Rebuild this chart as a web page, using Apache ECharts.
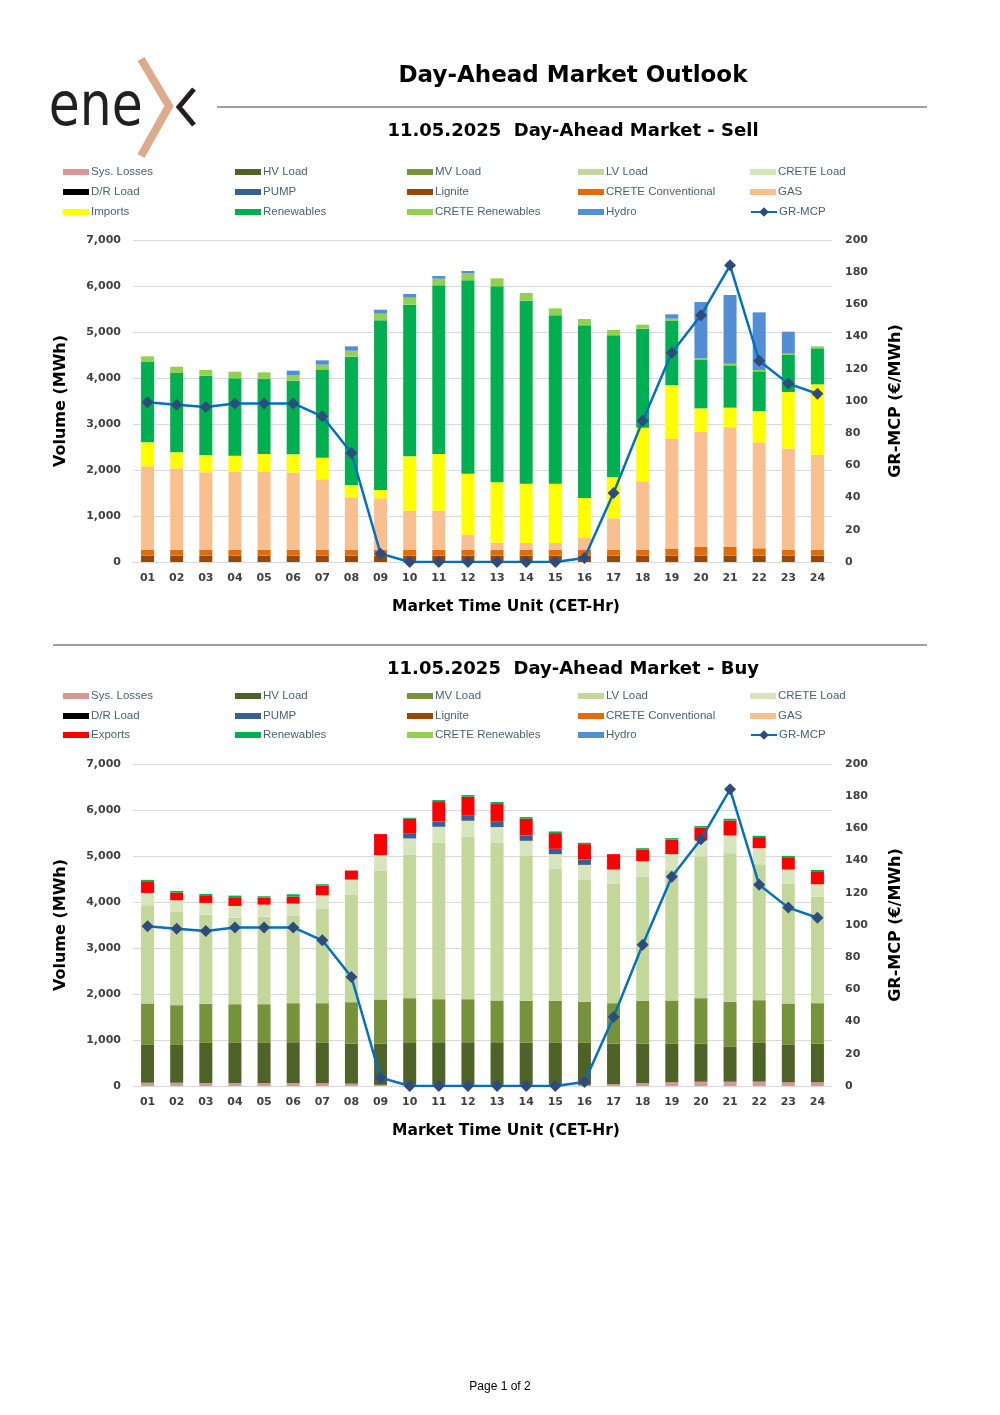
<!DOCTYPE html>
<html>
<head>
<meta charset="utf-8">
<script src="https://cdn.jsdelivr.net/npm/echarts@6/dist/echarts.min.js"></script>
<style>
html,body{margin:0;padding:0;background:#fff;}
#c{width:1000px;height:1415px;}
</style>
</head>
<body>
<div id="c"></div>
<script>
const hours = ['01','02','03','04','05','06','07','08','09','10','11','12','13','14','15','16','17','18','19','20','21','22','23','24'];
const volTicks = [0,1000,2000,3000,4000,5000,6000,7000];
const mcpTicks = [0,20,40,60,80,100,120,140,160,180,200];

// Sell side (MWh)
const sellLignite   = [138,138,138,138,138,138,138,138,138,138,138,138,138,138,138,138,138,138,138,138,138,138,138,138];
const sellCreteConv = [130,130,130,130,130,130,130,130,130,130,130,130,130,130,130,130,130,130,152,195,195,159,130,130];
const sellGas       = [1812,1768,1681,1688,1688,1674,1529,1138,1116,848,848,326,152,145,145,254,681,1486,2391,2500,2594,2304,2196,2065];
const sellImports   = [521,348,377,355,392,398,471,268,181,1181,1232,1326,1312,1290,1290,869,891,1166,1159,507,428,681,1231,1529];
const sellRenew     = [1747,1724,1724,1682,1637,1602,1906,2790,3688,3297,3666,4203,4261,3978,3659,3754,3087,2152,1399,1051,920,863,805,783];
const sellCreteRen  = [123,138,124,144,138,116,116,130,145,152,145,152,173,167,152,137,116,87,51,36,36,29,29,43];
const sellHydro     = [0,0,0,0,0,101,94,94,87,80,58,51,0,0,0,0,0,0,94,1225,1493,1253,478,0];

// Buy side (MWh)
const buySysLoss = [70,70,65,65,65,65,60,50,25,25,25,25,25,25,25,25,40,65,80,94,94,94,80,80];
const buyHV      = [823,823,872,872,872,886,877,872,897,926,926,926,926,919,912,912,882,857,835,828,756,843,813,842];
const buyMV      = [901,864,849,842,842,850,864,901,959,959,937,937,908,908,915,893,879,930,944,988,980,929,901,879];
const buyLV      = [2135,2034,1939,1881,1903,1895,2048,2331,2796,3115,3399,3529,3435,3152,2868,2658,2593,2701,2840,3079,3232,2956,2600,2317];
const buyCrete   = [268,247,255,254,261,269,298,334,341,356,348,349,334,326,320,319,312,334,341,349,385,348,312,268];
const buyPump    = [0,0,0,0,0,0,0,0,0,116,117,109,116,117,116,117,0,0,0,0,0,0,0,0];
const buyExports = [255,167,167,189,153,153,210,196,458,313,421,414,385,363,341,334,334,254,319,283,326,240,268,283];
const buyRenew   = [29,36,29,36,29,50,29,0,0,21,43,36,44,36,37,29,0,29,29,29,37,29,29,29];

// Market clearing price (EUR/MWh)
const mcp = [99.2,97.7,96.3,98.5,98.5,98.5,90.5,67.7,5.2,0,0,0,0,0,0,2.5,42.9,87.8,130,153.2,184.3,125,110.8,104.5];

const zeros = hours.map(() => 0);

const colors = {
  'Sys. Losses':'#DA9694','HV Load':'#4F6228','MV Load':'#76933C','LV Load':'#C4D79B','CRETE Load':'#D8E4BC',
  'D/R Load':'#000000','PUMP':'#366092','Lignite':'#974706','CRETE Conventional':'#E26B0A','GAS':'#FABF8F',
  'Imports':'#FFFF00','Exports':'#FF0000','Renewables':'#00B050','CRETE Renewables':'#92D050','Hydro':'#538DD5'
};

const sellSeries = [
  ['Sys. Losses', zeros],['HV Load', zeros],['MV Load', zeros],['LV Load', zeros],['CRETE Load', zeros],
  ['D/R Load', zeros],['PUMP', zeros],['Lignite', sellLignite],['CRETE Conventional', sellCreteConv],['GAS', sellGas],
  ['Imports', sellImports],['Renewables', sellRenew],['CRETE Renewables', sellCreteRen],['Hydro', sellHydro]
];
const buySeries = [
  ['Sys. Losses', buySysLoss],['HV Load', buyHV],['MV Load', buyMV],['LV Load', buyLV],['CRETE Load', buyCrete],
  ['D/R Load', zeros],['PUMP', buyPump],['Lignite', zeros],['CRETE Conventional', zeros],['GAS', zeros],
  ['Exports', buyExports],['Renewables', buyRenew],['CRETE Renewables', zeros],['Hydro', zeros]
];

const FONT = 'DejaVu Sans';
const gridTops = [240, 764];
const GRID_H = 322;

function buildSeries(list, idx, stack){
  const out = list.map(([name, data]) => ({
    type:'bar', name, stack, data, xAxisIndex:idx, yAxisIndex:idx*2,
    barWidth:13, itemStyle:{color:colors[name]}, emphasis:{disabled:true}, z:2
  }));
  out.push({
    type:'line', name:'GR-MCP', data:mcp, xAxisIndex:idx, yAxisIndex:idx*2+1,
    symbol:'diamond', symbolSize:12, showAllSymbol:true,
    lineStyle:{color:'#0070C0', width:2.5}, itemStyle:{color:'#2F4B7C'},
    emphasis:{disabled:true}, z:5
  });
  return out;
}

const legendCols = [63, 235, 407, 578, 750];
function buildLegends(list, rowTops){
  const names = list.map(s => s[0]).concat(['GR-MCP']);
  return names.map((n, i) => {
    const r = Math.floor(i/5), c = i%5;
    const isLine = n === 'GR-MCP';
    return {
      left: legendCols[c], top: rowTops[r], padding:0, itemGap:0,
      data:[isLine ? {name:n} : {name:n, icon:'rect'}],
      itemWidth: 26, itemHeight: isLine ? 12 : 6,
      selectedMode:false,
      textStyle:{fontFamily:'Liberation Sans', fontSize:11.5, color:'#4A6274', padding:[0,0,0,-3]}
    };
  });
}

function yAxes(idx){
  return [
    {type:'value', gridIndex:idx, min:0, max:7000, interval:1000, position:'left',
     name:'Volume (MWh)', nameLocation:'middle', nameGap:64, nameRotate:90,
     nameTextStyle:{fontFamily:FONT, fontWeight:'bold', fontSize:16, color:'#000'},
     axisLabel:{margin:12, fontFamily:FONT, fontSize:11, fontWeight:'bold', color:'#404040',
       formatter: v => volTicks.includes(v) ? v.toLocaleString('en-US') : ''},
     axisLine:{show:false}, axisTick:{show:false},
     splitLine:{lineStyle:{color:'#D9D9D9', width:1}}},
    {type:'value', gridIndex:idx, min:0, max:200, interval:20, position:'right',
     name:'GR-MCP (€/MWh)', nameLocation:'middle', nameGap:56, nameRotate:90,
     nameTextStyle:{fontFamily:FONT, fontWeight:'bold', fontSize:16, color:'#000'},
     axisLabel:{margin:13, fontFamily:FONT, fontSize:11, fontWeight:'bold', color:'#404040',
       formatter: v => mcpTicks.includes(v) ? String(v) : ''},
     axisLine:{show:false}, axisTick:{show:false}, splitLine:{show:false}}
  ];
}

function xAxis(idx){
  return {type:'category', gridIndex:idx, data:hours,
    axisLabel:{margin:11, fontFamily:FONT, fontSize:11, fontWeight:'bold', color:'#404040', interval:0},
    axisLine:{show:true, lineStyle:{color:'#D9D9D9'}}, axisTick:{show:false}};
}

const chart = echarts.init(document.getElementById('c'), null, {renderer:'canvas', width:1000, height:1415});
chart.setOption({
  animation:false,
  backgroundColor:'#ffffff',
  grid: gridTops.map(t => ({left:133, width:699, top:t, height:GRID_H})),
  xAxis: [xAxis(0), xAxis(1)],
  yAxis: yAxes(0).concat(yAxes(1)),
  legend: buildLegends(sellSeries, [166,186,206]).concat(buildLegends(buySeries, [690,710,729])),
  series: buildSeries(sellSeries, 0, 'sell').concat(buildSeries(buySeries, 1, 'buy')),
  graphic: [
    // logo
    {type:'text', x:42, y:139, scaleX:0.84, originX:42, originY:139,
     style:{text:'ene', fontFamily:FONT, fontSize:60, fill:'#231F20', verticalAlign:'bottom'}},
    {type:'polyline', shape:{points:[[141,59],[169,106],[141,156]]}, style:{stroke:'#DDAA8C', lineWidth:8, fill:null}},
    {type:'polyline', shape:{points:[[194,89],[179,107],[194,125]]}, style:{stroke:'#231F20', lineWidth:5, fill:null}},
    // titles
    {type:'text', x:573, y:76, style:{text:'Day-Ahead Market Outlook', fontFamily:FONT, fontWeight:'bold', fontSize:23, fill:'#000', align:'center', verticalAlign:'middle'}},
    {type:'line', shape:{x1:217, y1:107, x2:927, y2:107}, style:{stroke:'#404040', lineWidth:1}},
    {type:'text', x:573, y:131, style:{text:'11.05.2025  Day-Ahead Market - Sell', fontFamily:FONT, fontWeight:'bold', fontSize:18, fill:'#000', align:'center', verticalAlign:'middle'}},
    {type:'text', x:506, y:607, style:{text:'Market Time Unit (CET-Hr)', fontFamily:FONT, fontWeight:'bold', fontSize:15.5, fill:'#000', align:'center', verticalAlign:'middle'}},
    {type:'line', shape:{x1:53, y1:645, x2:927, y2:645}, style:{stroke:'#404040', lineWidth:1}},
    {type:'text', x:573, y:669, style:{text:'11.05.2025  Day-Ahead Market - Buy', fontFamily:FONT, fontWeight:'bold', fontSize:18, fill:'#000', align:'center', verticalAlign:'middle'}},
    {type:'text', x:506, y:1131, style:{text:'Market Time Unit (CET-Hr)', fontFamily:FONT, fontWeight:'bold', fontSize:15.5, fill:'#000', align:'center', verticalAlign:'middle'}},
    {type:'text', x:500, y:1387, style:{text:'Page 1 of 2', fontFamily:'Liberation Sans', fontSize:12, fill:'#000', align:'center', verticalAlign:'middle'}}
  ]
});
</script>
</body>
</html>
